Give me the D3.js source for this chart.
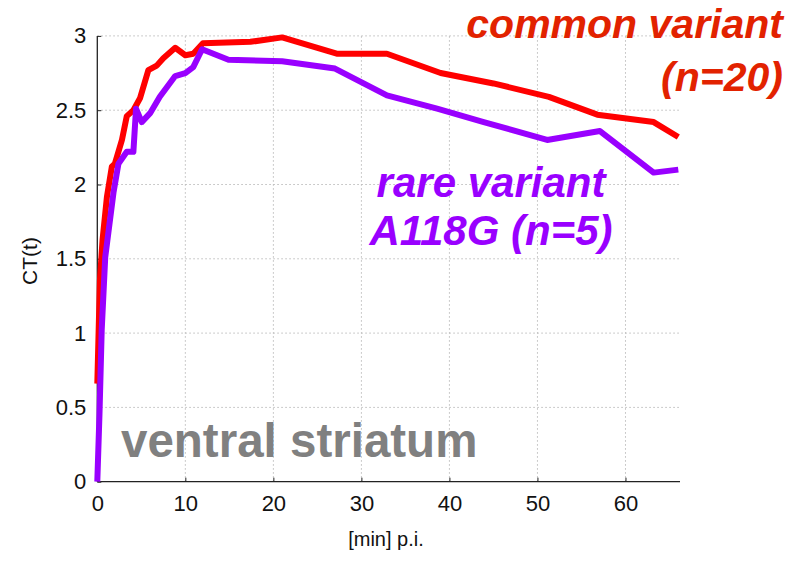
<!DOCTYPE html>
<html><head><meta charset="utf-8">
<script src="https://cdn.jsdelivr.net/npm/d3@7"></script>
<style>body{margin:0;background:#fff;}svg{display:block;font-family:"Liberation Sans",Arial,sans-serif;}</style>
</head><body><svg id="c" width="793" height="562"></svg>
<script>
const xTicks = [0,10,20,30,40,50,60];
const yTicks = [0,0.5,1,1.5,2,2.5,3];
const yTickLabels = ["0","0.5","1","1.5","2","2.5","3"];
const commonT = [0,0.3,0.6,1.1,1.65,2.0,2.8,3.35,4.1,4.85,5.8,6.75,7.5,8.85,10.0,10.9,12.0,17.4,21.0,27.2,32.9,39.0,45.0,51.3,56.8,63.2,66.0];
const commonV = [0.66,1.36,1.63,1.92,2.12,2.14,2.30,2.46,2.50,2.58,2.77,2.80,2.85,2.92,2.87,2.88,2.95,2.96,2.99,2.88,2.88,2.75,2.68,2.59,2.47,2.42,2.32];
const rareT = [0,0.25,0.5,0.9,1.85,2.4,3.35,4.1,4.4,5.05,6.0,7.1,8.85,10.0,10.9,11.9,14.9,21.0,27.0,32.9,38.6,43.9,51.1,57.1,63.2,66.0];
const rareV = [0,0.46,1.02,1.51,1.95,2.14,2.22,2.22,2.51,2.42,2.48,2.59,2.73,2.75,2.79,2.91,2.84,2.83,2.78,2.60,2.51,2.42,2.30,2.36,2.08,2.10];

const svg = d3.select("#c");
const x = d3.scaleLinear().domain([0,66]).range([97.3,678.3]);
const y = d3.scaleLinear().domain([0,3]).range([481.7,35.9]);

// grid
const g = svg.append("g");
g.selectAll(".gx").data(xTicks.filter(d=>d>0)).enter().append("line")
  .attr("x1",d=>x(d)).attr("x2",d=>x(d)).attr("y1",y(0)).attr("y2",y(3))
  .attr("stroke","#bbb").attr("stroke-width",1).attr("stroke-dasharray","1.5,2.5");
g.selectAll(".gy").data(yTicks.filter(d=>d>0)).enter().append("line")
  .attr("x1",x(0)).attr("x2",680).attr("y1",d=>y(d)).attr("y2",d=>y(d))
  .attr("stroke","#bbb").attr("stroke-width",1).attr("stroke-dasharray","1.5,2.5");

// axes
const xAxis = d3.axisBottom(x).tickValues(xTicks).tickSize(-4).tickPadding(14).tickFormat(d3.format("d"));
const xa = svg.append("g").attr("transform",`translate(0,${y(0)})`).call(xAxis);
xa.select(".domain").attr("d",`M${x(0)},0H680`).attr("stroke","#222").attr("stroke-width",1.3);
xa.selectAll(".tick line").attr("stroke","#222");
xa.selectAll("text").attr("font-size",22).attr("fill","#111").attr("font-family","Liberation Sans, Arial, sans-serif");

const yAxis = d3.axisLeft(y).tickValues(yTicks).tickSize(-4).tickPadding(11).tickFormat((d,i)=>yTickLabels[i]);
const ya = svg.append("g").attr("transform",`translate(${x(0)},0)`).call(yAxis);
ya.select(".domain").attr("d",`M0,${y(0)}V${y(3)}`).attr("stroke","#222").attr("stroke-width",1.3);
ya.selectAll(".tick line").attr("stroke","#222");
ya.selectAll("text").attr("font-size",22).attr("fill","#111").attr("font-family","Liberation Sans, Arial, sans-serif");

// lines
const line = d3.line().x(d=>x(d[0])).y(d=>y(d[1]));
const commonData = commonT.map((t,i)=>[t,commonV[i]]);
const rareData = rareT.map((t,i)=>[t,rareV[i]]);
svg.append("path").attr("d",line(commonData)).attr("fill","none").attr("stroke","#ff0000").attr("stroke-width",6).attr("stroke-linejoin","round");
svg.append("path").attr("d",line(rareData)).attr("fill","none").attr("stroke","#9900ff").attr("stroke-width",6).attr("stroke-linejoin","round");

// axis labels
svg.append("text").attr("x",386).attr("y",546).attr("text-anchor","middle").attr("font-size",20).attr("fill","#111").text("[min] p.i.");
svg.append("text").attr("transform","translate(37,261) rotate(-90)").attr("text-anchor","middle").attr("font-size",21).attr("fill","#111").text("CT(t)");

// annotations
const ann = (txt,xx,yy,anchor,fill,size,italic)=>svg.append("text").attr("x",xx).attr("y",yy).attr("text-anchor",anchor)
  .attr("font-size",size).attr("font-weight","bold").attr("font-style",italic?"italic":"normal").attr("fill",fill)
  .attr("font-family","Liberation Sans, Arial, sans-serif").text(txt);
ann("common variant",783,38,"end","#e22200",41,true);
ann("(n=20)",783,91,"end","#e22200",41,true);
ann("rare variant",491,197,"middle","#9900ff",42,true);
ann("A118G (n=5)",491,245,"middle","#9900ff",42,true);
ann("ventral striatum",121,457,"start","#808080",47.5,false);
</script></body></html>
